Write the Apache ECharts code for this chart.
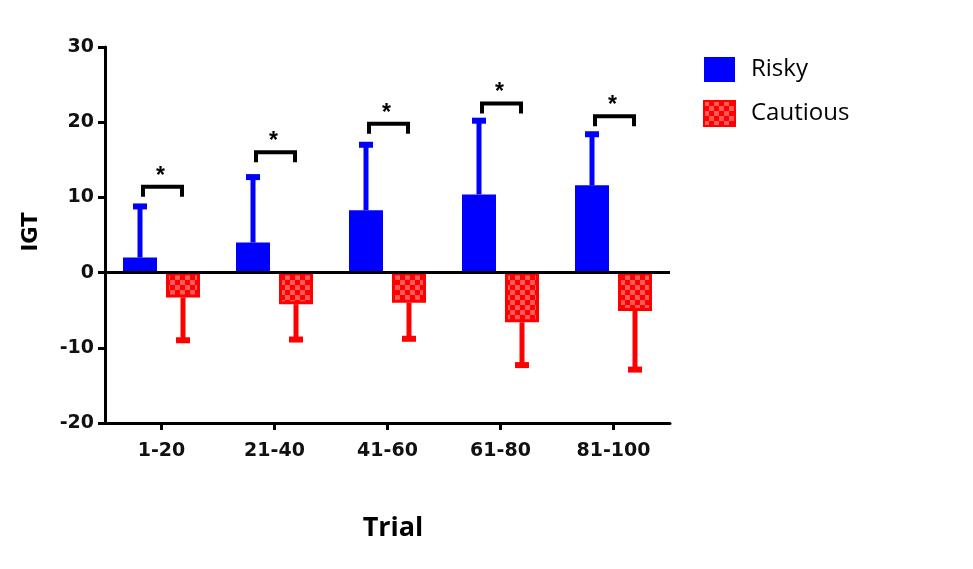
<!DOCTYPE html>
<html>
<head>
<meta charset="utf-8">
<script src="https://cdn.jsdelivr.net/npm/echarts@6/dist/echarts.min.js"></script>
<style>
html,body{margin:0;padding:0;background:#fff;}
#chart{width:973px;height:569px;}
</style>
</head>
<body>
<div id="chart"></div>
<script>
// ---- Data ----
const categories = ['1-20', '21-40', '41-60', '61-80', '81-100'];
const riskyMean = [2.0, 4.0, 8.3, 10.4, 11.6];
const riskySD = [6.8, 8.7, 8.7, 9.8, 6.8];         // upward error
const cautiousMean = [-3.3, -4.2, -4.0, -6.6, -5.1];
const cautiousSD = [5.7, 4.7, 4.8, 5.7, 7.8];       // downward error
const sigLevels = [11.4, 16.0, 19.8, 22.5, 20.8];   // bracket heights
const sigMarks = ['*', '*', '*', '*', '*'];
const yTicks = { min: -20, max: 30, interval: 10 };

// ---- Styling ----
const BAR_W = 34;
const BAR_GAP = 9;
const OFF = (BAR_W + BAR_GAP) / 2;
const BLUE = '#0000ff';
const RED = '#ff0000';
const TICK_FONT = '"DejaVu Sans"';

function makePattern() {
  const c = document.createElement('canvas');
  c.width = 10; c.height = 10;
  const g = c.getContext('2d');
  g.fillStyle = RED; g.fillRect(0, 0, 10, 10);
  g.fillStyle = '#ff5a5a';
  g.fillRect(0, 0, 5, 5);
  g.fillRect(5, 5, 5, 5);
  return c;
}
const redPattern = { image: makePattern(), repeat: 'repeat' };

const chart = echarts.init(document.getElementById('chart'), null, { renderer: 'canvas' });

function errRender(sign, color) {
  return function (params, api) {
    const cat = api.value(0), mean = api.value(1), end = api.value(2);
    const p0 = api.coord([cat, mean]);
    const p1 = api.coord([cat, end]);
    const x = p0[0] + sign * OFF;
    const capW = 14, capH = 6, stemW = 5;
    const yTop = Math.min(p0[1], p1[1]), yBot = Math.max(p0[1], p1[1]);
    return {
      type: 'group',
      children: [
        { type: 'rect', shape: { x: x - stemW / 2, y: yTop, width: stemW, height: yBot - yTop }, style: { fill: color } },
        { type: 'rect', shape: { x: x - capW / 2, y: p1[1] - capH / 2, width: capW, height: capH }, style: { fill: color } }
      ]
    };
  };
}

const riskyErrData = categories.map((c, i) => [i, riskyMean[i], riskyMean[i] + riskySD[i]]);
const cautErrData = categories.map((c, i) => [i, cautiousMean[i], cautiousMean[i] - cautiousSD[i]]);
const sigData = categories.map((c, i) => [i, sigLevels[i]]);

const option = {
  animation: false,
  backgroundColor: '#fff',
  grid: { left: 105, right: 303, top: 47, bottom: 146 },
  legend: {
    orient: 'vertical',
    left: 703, top: 57,
    itemWidth: 31, itemHeight: 25, itemGap: 18,
    icon: 'rect',
    padding: 0,
    data: ['Risky', 'Cautious'],
    textStyle: { fontFamily: 'Open Sans', fontSize: 24, color: '#000', padding: [0, 0, 0, 11] }
  },
  xAxis: {
    type: 'category',
    data: categories,
    axisLine: { onZero: false, lineStyle: { color: '#000', width: 3 } },
    axisTick: { show: true, alignWithLabel: true, length: 7, lineStyle: { color: '#000', width: 3 } },
    axisLabel: { fontFamily: TICK_FONT, fontWeight: 'bold', fontSize: 19, color: '#111', margin: 19 },
    splitLine: { show: false }
  },
  yAxis: {
    type: 'value',
    min: yTicks.min, max: yTicks.max, interval: yTicks.interval,
    axisLine: { show: true, lineStyle: { color: '#000', width: 3 } },
    axisTick: { show: true, length: 7, lineStyle: { color: '#000', width: 3 } },
    axisLabel: { fontFamily: TICK_FONT, fontWeight: 'bold', fontSize: 19, color: '#111', margin: 11 },
    splitLine: { show: false }
  },
  graphic: [
    { type: 'text', x: 32, y: 232, rotation: Math.PI / 2,
      style: { text: 'IGT', font: 'bold 21px "DejaVu Sans"', fill: '#000', textAlign: 'center', textVerticalAlign: 'middle' } },
    { type: 'text', x: 393, y: 528,
      style: { text: 'Trial', font: 'bold 27px "Open Sans"', fill: '#000', textAlign: 'center', textVerticalAlign: 'middle' } }
  ],
  series: [
    {
      name: 'Risky', type: 'bar', data: riskyMean,
      barWidth: BAR_W, barGap: (BAR_GAP / BAR_W * 100) + '%',
      itemStyle: { color: BLUE },
      markLine: {
        silent: true, symbol: 'none', label: { show: false },
        lineStyle: { color: '#000', width: 3, type: 'solid' },
        data: [{ yAxis: 0 }], z: 10
      },
      z: 2
    },
    {
      name: 'Cautious', type: 'bar', data: cautiousMean,
      barWidth: BAR_W,
      itemStyle: { color: redPattern, borderColor: RED, borderWidth: 3 },
      z: 2
    },
    { name: 'riskyErr', type: 'custom', data: riskyErrData, renderItem: errRender(-1, BLUE), z: 1, silent: true },
    { name: 'cautErr', type: 'custom', data: cautErrData, renderItem: errRender(1, RED), z: 1, silent: true },
    {
      name: 'sig', type: 'custom', data: sigData, z: 5, silent: true,
      renderItem: function (params, api) {
        const cat = api.value(0), lvl = api.value(1);
        const p = api.coord([cat, lvl]);
        const xL = p[0] - OFF + 3, xR = p[0] + OFF - 1;
        const y = p[1];
        return {
          type: 'group',
          children: [
            { type: 'polyline', shape: { points: [[xL, y + 10], [xL, y], [xR, y], [xR, y + 10]] },
              style: { stroke: '#000', lineWidth: 4, fill: null, lineJoin: 'miter' } },
            { type: 'text', style: { text: sigMarks[params.dataIndex], x: (xL + xR) / 2 - 2, y: y + 1,
              font: 'bold 23px "Liberation Sans"', fill: '#000', textAlign: 'center', textVerticalAlign: 'bottom' } }
          ]
        };
      }
    }
  ]
};
chart.setOption(option);
</script>
</body>
</html>
